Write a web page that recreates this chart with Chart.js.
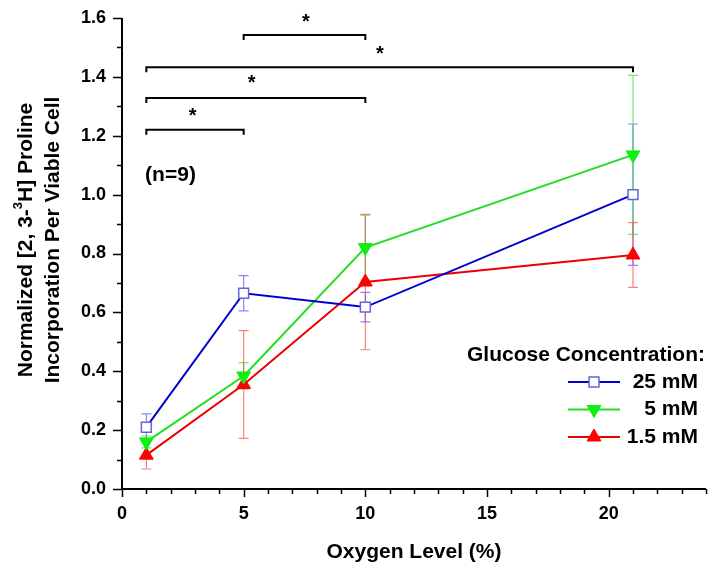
<!DOCTYPE html>
<html><head><meta charset="utf-8">
<script src="https://cdn.jsdelivr.net/npm/chart.js@4.4.0/dist/chart.umd.min.js"></script>
<style>html,body{margin:0;padding:0;background:#fff;}canvas{display:block;}</style>
</head><body>
<canvas id="c" width="719" height="572"></canvas>
<script>
// ---- data ----
const oxygenLevels = [1, 5, 10, 21];
const seriesNames = ['25 mM', '5 mM', '1.5 mM'];
const glucose25 = [0.21, 0.665, 0.618, 1.0];
const glucose25Err = [0.045, 0.06, 0.05, 0.24];
const glucose5 = [0.16, 0.384, 0.82, 1.135];
const glucose5Err = [0.02, 0.045, 0.11, 0.27];
const glucose15 = [0.115, 0.355, 0.703, 0.795];
const glucose15Err = [0.047, 0.183, 0.23, 0.11];
const xTickLabels = ['0', '5', '10', '15', '20'];
const yTickLabels = ['0.0', '0.2', '0.4', '0.6', '0.8', '1.0', '1.2', '1.4', '1.6'];
const bracketFrom = [1, 1, 1, 5];
const bracketTo = [5, 10, 21, 10];
const bracketLevel = [1.22, 1.328, 1.433, 1.542];
const starX = [2.9, 5.33, 10.6, 7.56];
const starY = [1.28, 1.39, 1.49, 1.60];
const noteText = '(n=9)';
const noteX = 0.95, noteY = 1.067;
const legendTitle = 'Glucose Concentration:';
const xTitle = 'Oxygen Level (%)';
const yTitle1 = ['Normalized [2, 3-', '3', 'H] Proline'];
const yTitle2 = 'Incorporation Per Viable Cell';

const FONT = "'Liberation Sans', Arial, sans-serif";

function pts(vals) { return oxygenLevels.map((x, i) => ({ x: x, y: vals[i] })); }

const datasets = [
  { label: seriesNames[0], data: pts(glucose25), errors: glucose25Err, errColor: 'rgba(70,70,255,0.65)',
    showLine: true, borderColor: '#0000d0', borderWidth: 2, tension: 0,
    pointStyle: 'rect', pointRadius: 7, pointHoverRadius: 7, pointRotation: 0,
    pointBackgroundColor: '#ffffff', pointBorderColor: '#6464dc', pointBorderWidth: 1.5 },
  { label: seriesNames[1], data: pts(glucose5), errors: glucose5Err, errColor: 'rgba(40,220,40,0.65)',
    showLine: true, borderColor: '#22dd22', borderWidth: 2, tension: 0,
    pointStyle: 'triangle', pointRadius: 8, pointHoverRadius: 8, pointRotation: 180,
    pointBackgroundColor: '#11ee11', pointBorderColor: '#11ee11', pointBorderWidth: 1 },
  { label: seriesNames[2], data: pts(glucose15), errors: glucose15Err, errColor: 'rgba(255,60,60,0.65)',
    showLine: true, borderColor: '#ee0000', borderWidth: 2, tension: 0,
    pointStyle: 'triangle', pointRadius: 8, pointHoverRadius: 8, pointRotation: 0,
    pointBackgroundColor: '#ff0000', pointBorderColor: '#ff0000', pointBorderWidth: 1 }
];

function drawMarker(ctx, ds, x, y) {
  ctx.save();
  ctx.fillStyle = ds.pointBackgroundColor;
  ctx.strokeStyle = ds.pointBorderColor;
  ctx.lineWidth = ds.pointBorderWidth;
  ctx.beginPath();
  const r = ds.pointRadius;
  if (ds.pointStyle === 'rect') {
    const s = Math.SQRT1_2 * r;
    ctx.rect(x - s, y - s, 2 * s, 2 * s);
  } else {
    const dir = ds.pointRotation === 180 ? -1 : 1;
    ctx.moveTo(x, y - dir * r);
    ctx.lineTo(x + Math.sin(2 * Math.PI / 3) * r, y + dir * r / 2);
    ctx.lineTo(x - Math.sin(2 * Math.PI / 3) * r, y + dir * r / 2);
    ctx.closePath();
  }
  ctx.fill();
  ctx.stroke();
  ctx.restore();
}

const extras = {
  id: 'extras',
  beforeDatasetsDraw(chart) {
    const ctx = chart.ctx, xs = chart.scales.x, ys = chart.scales.y;
    ctx.save();
    chart.data.datasets.forEach(ds => {
      ctx.strokeStyle = ds.errColor;
      ctx.lineWidth = 1.2;
      ds.data.forEach((p, i) => {
        const e = ds.errors[i];
        const px = xs.getPixelForValue(p.x);
        const t = ys.getPixelForValue(p.y + e), b = ys.getPixelForValue(p.y - e);
        ctx.beginPath();
        ctx.moveTo(px, t); ctx.lineTo(px, b);
        ctx.moveTo(px - 5, t); ctx.lineTo(px + 5, t);
        ctx.moveTo(px - 5, b); ctx.lineTo(px + 5, b);
        ctx.stroke();
      });
    });
    ctx.restore();
  },
  afterDraw(chart) {
    const ctx = chart.ctx, xs = chart.scales.x, ys = chart.scales.y, a = chart.chartArea;
    ctx.save();
    // axes
    ctx.strokeStyle = '#000'; ctx.lineWidth = 2;
    ctx.beginPath();
    ctx.moveTo(a.left, a.top); ctx.lineTo(a.left, a.bottom + 1);
    ctx.moveTo(a.left - 1, a.bottom); ctx.lineTo(a.right, a.bottom);
    ctx.stroke();
    ctx.lineWidth = 1.5;
    ctx.beginPath();
    xs.ticks.forEach(t => {
      const major = xTickLabels.includes(String(t.value));
      const px = Math.round(xs.getPixelForValue(t.value)) + 0.5;
      ctx.moveTo(px, a.bottom); ctx.lineTo(px, a.bottom + (major ? 8 : 5));
    });
    ys.ticks.forEach(t => {
      const major = yTickLabels.includes(t.value.toFixed(1));
      const py = Math.round(ys.getPixelForValue(t.value)) + 0.5;
      ctx.moveTo(a.left, py); ctx.lineTo(a.left - (major ? 9 : 5), py);
    });
    ctx.stroke();
    // significance brackets
    ctx.lineWidth = 2;
    ctx.fillStyle = '#000';
    ctx.font = 'bold 20px ' + FONT;
    ctx.textAlign = 'center'; ctx.textBaseline = 'middle';
    for (let i = 0; i < bracketFrom.length; i++) {
      const x1 = xs.getPixelForValue(bracketFrom[i]), x2 = xs.getPixelForValue(bracketTo[i]);
      const y = ys.getPixelForValue(bracketLevel[i]);
      ctx.beginPath();
      ctx.moveTo(x1, y + 5); ctx.lineTo(x1, y); ctx.lineTo(x2, y); ctx.lineTo(x2, y + 5);
      ctx.stroke();
      ctx.fillText('*', xs.getPixelForValue(starX[i]), ys.getPixelForValue(starY[i]) + 4);
    }
    // note
    ctx.font = 'bold 21px ' + FONT;
    ctx.textAlign = 'left';
    ctx.fillText(noteText, xs.getPixelForValue(noteX), ys.getPixelForValue(noteY));
    // legend
    ctx.textAlign = 'right';
    ctx.fillText(legendTitle, 705, 355);
    chart.data.datasets.forEach((ds, i) => {
      const y = 382 + i * 27.5;
      ctx.strokeStyle = ds.borderColor; ctx.lineWidth = 2;
      ctx.beginPath(); ctx.moveTo(568, y); ctx.lineTo(620, y); ctx.stroke();
      drawMarker(ctx, ds, 594, y);
      ctx.fillStyle = '#000';
      ctx.fillText(ds.label, 698, y);
    });
    // x title
    ctx.textAlign = 'center';
    ctx.fillText(xTitle, (a.left + a.right) / 2, 552);
    // y title
    ctx.save();
    ctx.rotate(-Math.PI / 2);
    const cy = 240;
    ctx.font = 'bold 21px ' + FONT;
    const w0 = ctx.measureText(yTitle1[0]).width;
    const w2 = ctx.measureText(yTitle1[2]).width;
    ctx.font = 'bold 13px ' + FONT;
    const w1 = ctx.measureText(yTitle1[1]).width;
    const tot = w0 + w1 + w2;
    const sx = -cy - tot / 2;
    ctx.textAlign = 'left';
    ctx.font = 'bold 21px ' + FONT;
    ctx.fillText(yTitle1[0], sx, 26);
    ctx.font = 'bold 13px ' + FONT;
    ctx.fillText(yTitle1[1], sx + w0, 18);
    ctx.font = 'bold 21px ' + FONT;
    ctx.fillText(yTitle1[2], sx + w0 + w1, 26);
    ctx.textAlign = 'center';
    ctx.fillText(yTitle2, -cy, 53);
    ctx.restore();
    ctx.restore();
  }
};

new Chart(document.getElementById('c'), {
  type: 'scatter',
  data: { datasets: datasets },
  plugins: [extras],
  options: {
    responsive: false, animation: false,
    layout: { padding: { left: 0, right: 13, top: 18, bottom: 0 } },
    plugins: { legend: { display: false }, tooltip: { enabled: false } },
    scales: {
      x: {
        type: 'linear', min: 0, max: 24,
        afterFit: s => { s.height = 83; s.paddingLeft = 0; s.paddingRight = 0; },
        grid: { display: false, drawTicks: false }, border: { display: false },
        ticks: { stepSize: 1, autoSkip: false, maxRotation: 0, padding: 14, color: '#000',
          font: { family: FONT, size: 18, weight: 'bold' },
          callback: v => xTickLabels.includes(String(v)) ? String(v) : '' }
      },
      y: {
        type: 'linear', min: 0, max: 1.6,
        afterFit: s => { s.width = 122; s.paddingTop = 0; s.paddingBottom = 0; },
        grid: { display: false, drawTicks: false }, border: { display: false },
        ticks: { stepSize: 0.1, autoSkip: false, padding: 16, color: '#000',
          font: { family: FONT, size: 18, weight: 'bold' },
          callback: v => yTickLabels.includes(Number(v).toFixed(1)) ? Number(v).toFixed(1) : '' }
      }
    }
  }
});
</script>
</body></html>
